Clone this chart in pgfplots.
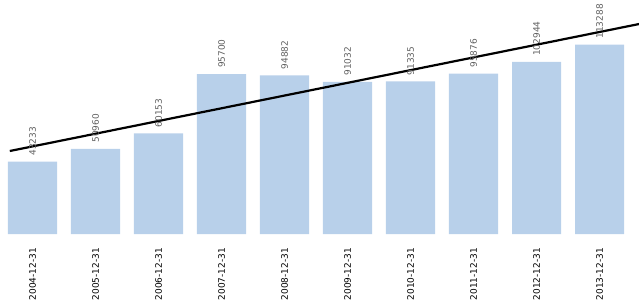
\documentclass[border=0pt]{standalone}
\usepackage{fontspec}
\setmainfont{DejaVu Sans}
\usepackage{pgfplots}
\usepackage{pgfplotstable}
\pgfplotsset{compat=1.18}
\definecolor{barblue}{HTML}{B8D0EA}
\definecolor{lblgray}{HTML}{606060}
\pgfplotstableread{
x y lab
0 43233 43233
1 50960 50960
2 60153 60153
3 95700 95700
4 94882 94882
5 91032 91032
6 91335 91335
7 95876 95876
8 102944 102944
9 113288 113288
}\datatable
\begin{document}
\begin{tikzpicture}
\begin{axis}[
  at={(0,0)}, anchor=south west,
  scale only axis, width=638bp, height=234bp,
  xmin=-0.5, xmax=9.627, ymin=0, ymax=140000,
  axis line style={draw=none}, major tick length=0pt,
  ytick=\empty,
  xtick={0,...,9},
  xticklabels={2004-12-31,2005-12-31,2006-12-31,2007-12-31,2008-12-31,2009-12-31,2010-12-31,2011-12-31,2012-12-31,2013-12-31},
  xticklabel style={rotate=90, anchor=east, font=\fontsize{9}{10}\selectfont, inner sep=0pt, xshift=-14bp},
  clip=false,
]
\addplot[ybar, bar width=49bp, fill=barblue, draw=none,
  point meta=explicit symbolic,
  nodes near coords={\pgfplotspointmeta},
  every node near coord/.append style={rotate=90, anchor=west, font=\fontsize{9}{10}\selectfont, text=lblgray, inner sep=0pt, xshift=6bp},
] table[x=x, y=y, meta=lab] {\datatable};
\addplot[black, line width=2.2bp] coordinates {(-0.36,49660) (9.627,125620)};
\end{axis}
\pgfresetboundingbox
\path (-1bp,-66bp) rectangle (638bp,234bp);
\end{tikzpicture}
\end{document}
